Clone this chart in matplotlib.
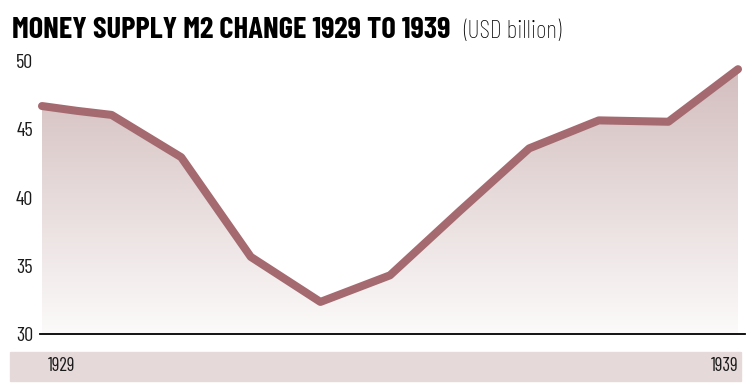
import numpy as np
import matplotlib
matplotlib.use('Agg')
import matplotlib.pyplot as plt
from matplotlib.colors import LinearSegmentedColormap
from matplotlib.patches import Rectangle

# Data (USD billion)
years = [1929, 1929.5, 1930, 1931, 1932, 1933, 1934, 1935, 1936, 1937, 1938, 1939]
m2 = [46.7, 46.35, 46.05, 42.95, 35.65, 32.35, 34.3, 39.0, 43.6, 45.65, 45.55, 49.4]
yticks = [30, 35, 40, 45, 50]
year_labels = ['1929', '1939']

line_color = '#a46a70'
band_color = '#e6d9d9'
cond = ['Barlow Condensed', 'Saira SemiCondensed', 'DejaVu Sans']

W, H = 751, 389
fig = plt.figure(figsize=(W / 100, H / 100), dpi=100)
fig.patch.set_facecolor('white')

# axes placed in pixel terms
left, right, bottom, top = 40, 745, 334, 54
ax = fig.add_axes([left / W, (H - bottom) / H, (right - left) / W, (bottom - top) / H])
ax.set_xlim(1929 - 2 / 69.6, 1939 + 7 / 69.6)
ax.set_ylim(30, 50 + 7 / 13.65)

# gradient fill under the line
cmap = LinearSegmentedColormap.from_list('fade', ['#fcfafa', '#d2bcbc'])
grad = np.linspace(0, 1, 256).reshape(-1, 1)
img = ax.imshow(grad, extent=[years[0], years[-1], 30, 50], origin='lower',
                aspect='auto', cmap=cmap, zorder=1)
poly = ax.fill_between(years, m2, 30, color='none', lw=0)
clip = poly.get_paths()[0]
img.set_clip_path(clip, transform=ax.transData)

ax.plot(years, m2, color=line_color, lw=5.8, solid_capstyle='round',
        solid_joinstyle='round', zorder=3, clip_on=False)

for s in ['top', 'right', 'left']:
    ax.spines[s].set_visible(False)
ax.spines['bottom'].set_color('black')
ax.spines['bottom'].set_linewidth(1.3)
ax.spines['bottom'].set_zorder(4)
ax.set_xticks([])
ax.set_yticks(yticks)
ax.set_yticklabels([str(t) for t in yticks], family=cond, fontsize=14.5,
                   fontweight='normal', color='#1a1a1a')
ax.tick_params(axis='y', length=0, pad=5)
ax.set_facecolor('none')

# bottom band with years
fig.patches.append(Rectangle((10 / W, (H - 381) / H), 731 / W, 29 / H,
                             transform=fig.transFigure, color=band_color, zorder=0))
fig.text(48 / W, (H - 366) / H, year_labels[0], family=cond, fontsize=13.5,
         fontweight='normal', va='center', ha='left', color='#1a1a1a')
fig.text(738 / W, (H - 366) / H, year_labels[1], family=cond, fontsize=13.5,
         fontweight='normal', va='center', ha='right', color='#1a1a1a')

# title
fig.text(12 / W, (H - 38) / H, 'MONEY SUPPLY M2 CHANGE 1929 TO 1939', family=cond,
         fontsize=22, fontweight='bold', va='baseline', ha='left', color='black')
fig.text(463 / W, (H - 38) / H, '(USD billion)', family=cond, fontsize=18.5,
         fontweight='light', va='baseline', ha='left', color='black')

fig.savefig('out.png', dpi=100, facecolor='white')
